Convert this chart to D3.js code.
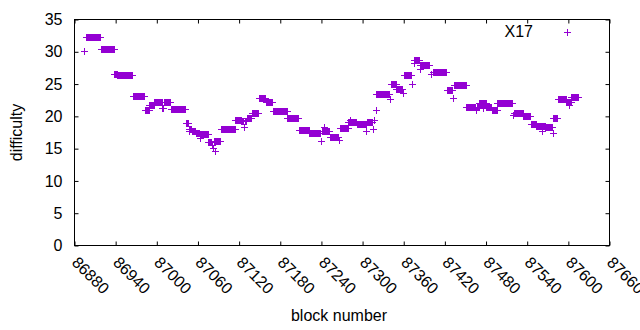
<!DOCTYPE html>
<html lang="en">
<head>
<meta charset="UTF-8">
<title>X17 difficulty</title>
<script src="https://cdn.jsdelivr.net/npm/d3@7"></script>
<style>
    html, body { margin: 0; padding: 0; background: #fff; }
    svg { display: block; }
    text { font-family: "Liberation Sans", Arial, sans-serif; font-size: 16px; fill: #000; }
</style>
</head>
<body>
<div id="chart"></div>
<script>
    // runs of equal difficulty: first block, last block, difficulty
    const runStart = [86894, 86897, 86919, 86939, 86943, 86966, 86983, 86990, 86997, 87009, 87011, 87021,
        87043, 87047, 87048, 87049, 87052, 87058, 87063, 87064, 87076, 87081, 87082, 87084, 87086, 87087,
        87094, 87115, 87124, 87128, 87129, 87132, 87139, 87149, 87160, 87170, 87191, 87208, 87223, 87240,
        87241, 87245, 87246, 87253, 87267, 87268, 87280, 87283, 87284, 87292, 87306, 87307, 87316, 87317,
        87320, 87321, 87340, 87342, 87350, 87359, 87361, 87373, 87375, 87376, 87384, 87385, 87401, 87403,
        87424, 87432, 87434, 87452, 87466, 87467, 87471, 87476, 87477, 87481, 87489, 87497, 87520, 87522,
        87535, 87546, 87554, 87563, 87564, 87567, 87578, 87579, 87585, 87598, 87601, 87602, 87605];
    const runEnd = [86894, 86918, 86938, 86942, 86965, 86982, 86989, 86996, 87008, 87010, 87020, 87042,
        87046, 87047, 87048, 87051, 87057, 87062, 87063, 87075, 87080, 87081, 87082, 87085, 87086, 87093,
        87114, 87123, 87127, 87128, 87131, 87138, 87148, 87159, 87169, 87190, 87207, 87222, 87239, 87240,
        87244, 87245, 87252, 87265, 87267, 87279, 87282, 87283, 87291, 87305, 87306, 87315, 87316, 87317,
        87320, 87339, 87340, 87349, 87358, 87359, 87372, 87373, 87375, 87383, 87384, 87398, 87401, 87423,
        87431, 87432, 87451, 87465, 87466, 87470, 87475, 87476, 87480, 87488, 87496, 87518, 87520, 87534,
        87545, 87553, 87562, 87563, 87566, 87577, 87578, 87584, 87597, 87600, 87601, 87604, 87615];
    const runDiff = [30.0, 32.2, 30.3, 26.5, 26.3, 23.1, 20.9, 21.7, 22.1, 21.2, 22.1, 21.0,
        18.9, 18.0, 17.6, 18.0, 17.6, 17.3, 16.6, 17.2, 16.0, 15.5, 15.0, 16.1, 14.6, 16.1,
        18.0, 19.4, 19.2, 18.3, 19.2, 19.6, 20.4, 22.7, 22.2, 20.8, 19.7, 17.8, 17.3, 16.1,
        17.7, 18.2, 17.7, 16.7, 16.2, 18.1, 19.0, 19.3, 19.0, 18.7, 17.6, 19.0, 17.9, 19.3,
        20.9, 23.4, 22.6, 24.9, 24.2, 23.6, 26.3, 24.9, 28.2, 28.7, 27.2, 27.8, 26.5, 26.8,
        24.0, 22.8, 24.8, 21.4, 20.9, 21.4, 22.0, 21.2, 22.0, 21.4, 20.9, 22.0, 20.2, 20.5,
        20.0, 18.8, 18.4, 17.6, 18.4, 18.2, 17.3, 19.6, 22.6, 22.2, 21.7, 22.2, 22.9];

    const xTicks = [86880, 86940, 87000, 87060, 87120, 87180, 87240, 87300, 87360, 87420, 87480, 87540, 87600, 87660];
    const yTicks = [0, 5, 10, 15, 20, 25, 30, 35];
    const seriesName = 'X17';

    // one point per block
    const points = [];
    runStart.forEach((s, i) => {
        d3.range(s, runEnd[i] + 1).forEach(b => points.push({ block: b, diff: runDiff[i] }));
    });

    const width = 640, height = 330;
    const plotLeft = 74.5, plotRight = 609.5, plotTop = 19.5, plotBottom = 245.5;
    const color = '#9400d3';
    const plus = 'M-3.5,0H3.5M0,-3.5V3.5';

    const x = d3.scaleLinear().domain([86880, 87660]).range([plotLeft, plotRight]);
    const y = d3.scaleLinear().domain([0, 35]).range([plotBottom, plotTop]);

    const svg = d3.select('#chart').append('svg')
        .attr('width', width)
        .attr('height', height);

    // points
    svg.append('g')
        .attr('shape-rendering', 'crispEdges')
        .selectAll('path')
        .data(points)
        .join('path')
        .attr('d', plus)
        .attr('transform', d => `translate(${x(d.block)},${y(d.diff)})`)
        .attr('fill', 'none')
        .attr('stroke', color)
        .attr('stroke-width', 1);

    // axes, ticks pointing inwards on all four sides
    const gx = svg.append('g')
        .attr('transform', `translate(0,${plotBottom})`)
        .call(d3.axisBottom(x).tickValues(xTicks).tickSize(-4).tickFormat(d3.format('d')));
    gx.selectAll('text')
        .attr('x', 0)
        .attr('y', 0)
        .attr('dy', '0.35em')
        .attr('text-anchor', 'start')
        .attr('transform', 'translate(0,14) rotate(45)');

    svg.append('g')
        .attr('transform', `translate(0,${plotTop})`)
        .call(d3.axisTop(x).tickValues(xTicks).tickSize(-4).tickFormat(''));

    svg.append('g')
        .attr('transform', `translate(${plotLeft},0)`)
        .call(d3.axisLeft(y).tickValues(yTicks).tickSize(-4).tickPadding(12));

    svg.append('g')
        .attr('transform', `translate(${plotRight},0)`)
        .call(d3.axisRight(y).tickValues(yTicks).tickSize(-4).tickFormat(''));

    svg.selectAll('.domain').remove();
    svg.selectAll('.tick line').attr('stroke', '#000');
    svg.selectAll('.tick text')
        .attr('fill', '#000')
        .style('font-family', '"Liberation Sans", Arial, sans-serif')
        .style('font-size', '16px');

    // frame
    svg.append('rect')
        .attr('x', plotLeft)
        .attr('y', plotTop)
        .attr('width', plotRight - plotLeft)
        .attr('height', plotBottom - plotTop)
        .attr('fill', 'none')
        .attr('stroke', '#000');

    // axis titles
    svg.append('text')
        .attr('x', (plotLeft + plotRight) / 2 - 3)
        .attr('y', 321)
        .attr('text-anchor', 'middle')
        .text('block number');

    svg.append('text')
        .attr('transform', `translate(22,${(plotTop + plotBottom) / 2}) rotate(-90)`)
        .attr('text-anchor', 'middle')
        .text('difficulty');

    // key
    svg.append('text')
        .attr('x', 533)
        .attr('y', 37)
        .attr('text-anchor', 'end')
        .text(seriesName);

    svg.append('path')
        .attr('d', plus)
        .attr('transform', 'translate(567,32)')
        .attr('fill', 'none')
        .attr('stroke', color)
        .attr('shape-rendering', 'crispEdges');
</script>
</body>
</html>
